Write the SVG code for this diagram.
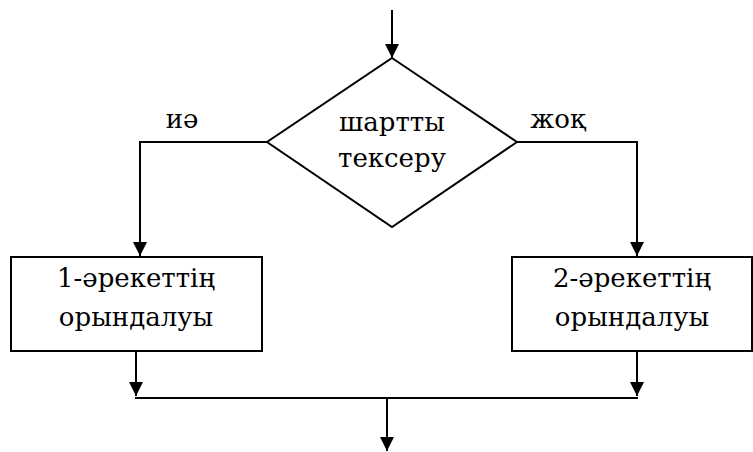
<svg xmlns="http://www.w3.org/2000/svg" width="753" height="452" viewBox="0 0 753 452">
  <style>
    .ln { fill: none; stroke: #000; stroke-width: 2; }
    .shape { fill: #fff; stroke: #000; stroke-width: 2; }
  </style>
  <defs>
    <marker id="arrow" markerUnits="userSpaceOnUse" markerWidth="14" markerHeight="16" refX="14" refY="7" orient="auto">
      <path d="M0,0 L14,7 L0,14 Z" fill="#000"/>
    </marker>
  </defs>

  <!-- flow lines -->
  <g id="connectors">
    <line class="ln" x1="392" y1="10" x2="392" y2="58" marker-end="url(#arrow)"/>
    <polyline class="ln" points="267,142 140,142 140,256" marker-end="url(#arrow)"/>
    <polyline class="ln" points="517,142 637,142 637,256" marker-end="url(#arrow)"/>
    <line class="ln" x1="136" y1="351" x2="136" y2="396" marker-end="url(#arrow)"/>
    <line class="ln" x1="637" y1="351" x2="637" y2="396" marker-end="url(#arrow)"/>
    <line class="ln" x1="135" y1="398" x2="638" y2="398"/>
    <line class="ln" x1="387" y1="398" x2="387" y2="451" marker-end="url(#arrow)"/>
  </g>

  <g id="decision">
    <polygon class="shape" points="392,58 517,142 392,227 267,142"/>
    <text x="392" y="131" font-family="DejaVu Serif, serif" font-size="26" text-anchor="middle">шартты</text>
    <text x="392" y="167" font-family="DejaVu Serif, serif" font-size="26" text-anchor="middle">тексеру</text>
  </g>

  <g id="label-yes">
    <text x="182" y="128" font-family="DejaVu Serif, serif" font-size="26" text-anchor="middle">иә</text>
  </g>
  <g id="label-no">
    <text x="558" y="128" font-family="DejaVu Serif, serif" font-size="26" text-anchor="middle">жоқ</text>
  </g>

  <g id="action1">
    <rect class="shape" x="11" y="257" width="251" height="94"/>
    <text x="136" y="287" font-family="DejaVu Serif, serif" font-size="26" text-anchor="middle">1-әрекеттің</text>
    <text x="136" y="326" font-family="DejaVu Serif, serif" font-size="26" text-anchor="middle">орындалуы</text>
  </g>

  <g id="action2">
    <rect class="shape" x="512" y="257" width="240" height="94"/>
    <text x="632" y="287" font-family="DejaVu Serif, serif" font-size="26" text-anchor="middle">2-әрекеттің</text>
    <text x="632" y="326" font-family="DejaVu Serif, serif" font-size="26" text-anchor="middle">орындалуы</text>
  </g>
</svg>
